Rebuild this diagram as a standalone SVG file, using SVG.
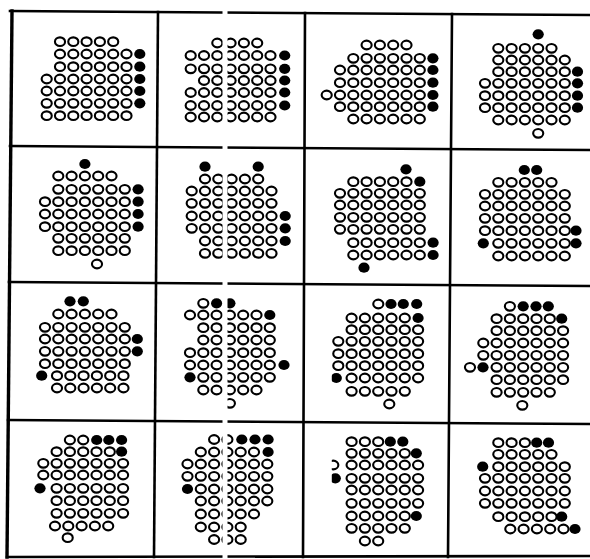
<svg xmlns="http://www.w3.org/2000/svg" width="590" height="559" viewBox="0 0 590 559">
<style>
.oc{fill:#fff;stroke:#000;stroke-width:2.1}
.fc{fill:#000}
.grid line{stroke:#000;stroke-width:2.6;stroke-linecap:square}
</style>
<defs>
<ellipse id="o" class="oc" cx="0" cy="0" rx="5.05" ry="4.35"/>
<ellipse id="f" class="fc" cx="0" cy="0" rx="5.6" ry="5.1"/>
<g id="o2"><use href="#o"/><use href="#o" x="13.3"/></g>
<g id="o3"><use href="#o2"/><use href="#o" x="26.6"/></g>
<g id="o4"><use href="#o2"/><use href="#o2" x="26.6"/></g>
<g id="o5"><use href="#o4"/><use href="#o" x="53.2"/></g>
<g id="o6"><use href="#o4"/><use href="#o2" x="53.2"/></g>
<g id="o7"><use href="#o6"/><use href="#o" x="79.8"/></g>
<g id="o8"><use href="#o4"/><use href="#o4" x="53.2"/></g>
<clipPath id="cut"><rect x="-6.5" y="0" width="30" height="559"/></clipPath>
</defs>
<rect width="590" height="559" fill="#fff"/>
<g id="grid" class="grid">
<line x1="12" y1="11" x2="7" y2="557" style="stroke-width:3.4"/>
<line x1="158" y1="12" x2="154" y2="557"/>
<line x1="305" y1="13" x2="303" y2="557"/>
<line x1="452" y1="14" x2="448" y2="557"/>
<line x1="10" y1="11" x2="590" y2="15"/>
<line x1="10" y1="146" x2="590" y2="150"/>
<line x1="9" y1="282" x2="590" y2="286"/>
<line x1="8" y1="420" x2="590" y2="424"/>
<line x1="7" y1="557" x2="590" y2="556"/>
</g>
<g id="p00" transform="translate(46.7,0)">
<use href="#o5" x="13.3" y="41.7"/>
<use href="#o6" x="13.3" y="54"/><use href="#f" x="93.1" y="54"/>
<use href="#o6" x="13.3" y="66.7"/><use href="#f" x="93.1" y="66.7"/>
<use href="#o7" y="79"/><use href="#f" x="93.1" y="79"/>
<use href="#o7" y="91"/><use href="#f" x="93.1" y="91"/>
<use href="#o7" y="103.3"/><use href="#f" x="93.1" y="103.3"/>
<use href="#o7" y="115.7"/>
</g>
<g id="p01" transform="translate(190.7,0)">
<use href="#o4" x="26.6" y="43"/>
<use href="#o7" y="55.5"/><use href="#f" x="94" y="55.5"/>
<use href="#o7" y="68.8"/><use href="#f" x="94" y="68.8"/>
<use href="#o6" x="13.3" y="80.5"/><use href="#f" x="94" y="80.5"/>
<use href="#o7" y="92.5"/><use href="#f" x="94" y="92.5"/>
<use href="#o7" y="105.5"/><use href="#f" x="94" y="105.5"/>
<use href="#o7" y="117"/>
</g>
<g id="p02" transform="translate(326.7,0)">
<use href="#o4" x="39.9" y="45"/>
<use href="#o6" x="26.6" y="58.3"/><use href="#f" x="106.2" y="58.3"/>
<use href="#o7" x="13.3" y="70"/><use href="#f" x="106.2" y="70"/>
<use href="#o7" x="13.3" y="82.7"/><use href="#f" x="106.2" y="82.7"/>
<use href="#o8" y="95"/><use href="#f" x="106.2" y="95"/>
<use href="#o7" x="13.3" y="106.7"/><use href="#f" x="106.2" y="106.7"/>
<use href="#o6" x="26.6" y="119"/>
</g>
<g id="p03" transform="translate(485,0)">
<use href="#f" x="53.2" y="34.3"/>
<use href="#o5" x="13.3" y="48.3"/>
<use href="#o6" x="13.3" y="60"/>
<use href="#o6" x="13.3" y="71.7"/><use href="#f" x="92.5" y="71.7"/>
<use href="#o7" y="83.3"/><use href="#f" x="92.5" y="83.3"/>
<use href="#o7" y="95.7"/><use href="#f" x="92.5" y="95.7"/>
<use href="#o7" y="107.7"/><use href="#f" x="92.5" y="107.7"/>
<use href="#o6" x="13.3" y="120"/>
<use href="#o" x="53.2" y="133.3"/>
</g>
<g id="p10" transform="translate(45,0)">
<use href="#f" x="39.9" y="164"/>
<use href="#o5" x="13.3" y="176"/>
<use href="#o6" x="13.3" y="189.3"/><use href="#f" x="93.1" y="189.3"/>
<use href="#o7" y="201.7"/><use href="#f" x="93.1" y="201.7"/>
<use href="#o7" y="214"/><use href="#f" x="93.1" y="214"/>
<use href="#o7" y="226.7"/><use href="#f" x="93.1" y="226.7"/>
<use href="#o6" x="13.3" y="238.3"/>
<use href="#o6" x="13.3" y="250.7"/>
<use href="#o" x="52" y="264"/>
</g>
<g id="p11" transform="translate(191.7,0)">
<use href="#f" x="13.3" y="166.7"/><use href="#f" x="66.5" y="166.7"/>
<use href="#o5" x="13.3" y="179"/>
<use href="#o7" y="191"/>
<use href="#o7" y="203.3"/>
<use href="#o7" y="216"/><use href="#f" x="93.5" y="216"/>
<use href="#o7" y="228.3"/><use href="#f" x="93.5" y="228.3"/>
<use href="#o6" x="13.3" y="241"/><use href="#f" x="93.5" y="241"/>
<use href="#o6" x="13.3" y="253.3"/>
</g>
<g id="p12" transform="translate(340,0)">
<use href="#f" x="66" y="169.3"/>
<use href="#o5" x="13.3" y="181.7"/><use href="#f" x="79.8" y="181.7"/>
<use href="#o7" y="193.3"/>
<use href="#o7" y="205"/>
<use href="#o7" y="217.3"/>
<use href="#o7" y="229.3"/>
<use href="#o6" x="13.3" y="242.7"/><use href="#f" x="93.1" y="242.7"/>
<use href="#o6" x="13.3" y="255"/><use href="#f" x="93.1" y="255"/>
<use href="#f" x="24" y="267.7"/>
</g>
<g id="p13" transform="translate(485,0)">
<use href="#f" x="39.3" y="170"/><use href="#f" x="51.7" y="170"/>
<use href="#o5" x="13.3" y="182.3"/>
<use href="#o7" y="194.3"/>
<use href="#o7" y="206"/>
<use href="#o7" y="218.3"/>
<use href="#o7" y="230.7"/><use href="#f" x="91" y="230.7"/>
<use href="#f" x="-1.7" y="243.3"/><use href="#o6" x="13.3" y="243.3"/><use href="#f" x="91" y="243.3"/>
<use href="#o6" x="13.3" y="256"/>
</g>
<g id="p20" transform="translate(45,0)">
<use href="#f" x="25" y="301.3"/><use href="#f" x="38.3" y="301.3"/>
<use href="#o5" x="13.3" y="314"/>
<use href="#o7" y="327.3"/>
<use href="#o7" y="339"/><use href="#f" x="92.3" y="339"/>
<use href="#o7" y="351.3"/><use href="#f" x="92.3" y="351.3"/>
<use href="#o7" y="363.7"/>
<use href="#f" x="-3.3" y="375.7"/><use href="#o6" x="12" y="375.7"/>
<use href="#o6" x="12" y="388"/>
</g>
<g id="p21" transform="translate(190,0)">
<use href="#o" x="13.3" y="303.3"/><use href="#f" x="26.6" y="303.3"/><use href="#f" x="39.9" y="303.3"/>
<use href="#o6" y="315"/><use href="#f" x="79.8" y="315"/>
<use href="#o6" x="13.3" y="327.7"/>
<use href="#o6" x="13.3" y="340"/>
<use href="#o7" y="352.7"/>
<use href="#o7" y="365"/><use href="#f" x="94" y="365"/>
<use href="#f" y="377.3"/><use href="#o6" x="13.3" y="377.3"/>
<use href="#o5" x="13.3" y="390"/>
<use href="#o" x="39.9" y="403.3"/>
</g>
<g id="p22" transform="translate(338.3,0)">
<use href="#o" x="40" y="304"/><use href="#f" x="52.7" y="304"/><use href="#f" x="65" y="304"/><use href="#f" x="78.4" y="304"/>
<use href="#o5" x="13.3" y="318"/><use href="#f" x="79.8" y="318"/>
<use href="#o6" x="13.3" y="329.7"/>
<use href="#o7" y="341.3"/>
<use href="#o7" y="353.7"/>
<use href="#o7" y="365.7"/>
<g clip-path="url(#cut)"><use href="#f" x="-2" y="378"/></g><use href="#o6" x="13.3" y="378"/>
<use href="#o5" x="13.3" y="391.3"/>
<use href="#o" x="51" y="404"/>
</g>
<g id="p23" transform="translate(470,0)">
<use href="#o" x="39.9" y="306.3"/><use href="#f" x="53.2" y="306.3"/><use href="#f" x="66" y="306.3"/><use href="#f" x="78.3" y="306.3"/>
<use href="#o5" x="26.6" y="318.7"/><use href="#f" x="91.7" y="318.7"/>
<use href="#o6" x="26.6" y="330.7"/>
<use href="#o7" x="13.3" y="343"/>
<use href="#o7" x="13.3" y="355.3"/>
<use href="#o" y="367.3"/><use href="#f" x="13" y="367.3"/><use href="#o6" x="26.6" y="367.3"/>
<use href="#o6" x="26.6" y="379.7"/>
<use href="#o5" x="26.6" y="392.3"/>
<use href="#o" x="52.3" y="405.3"/>
</g>
<g id="p30" transform="translate(43.3,0)">
<use href="#o2" x="26.6" y="440"/><use href="#f" x="53.4" y="440"/><use href="#f" x="65.5" y="440"/><use href="#f" x="78.3" y="440"/>
<use href="#o5" x="13.3" y="451.7"/><use href="#f" x="78.3" y="451.7"/>
<use href="#o7" y="463.3"/>
<use href="#o7" y="475"/>
<use href="#f" x="-3.3" y="488.3"/><use href="#o6" x="13.3" y="488.3"/>
<use href="#o6" x="13.3" y="500.7"/>
<use href="#o6" x="13.3" y="513.3"/>
<use href="#o5" x="11.7" y="526"/>
<use href="#o" x="24.4" y="537.7"/>
</g>
<g id="p31" transform="translate(187.5,0)">
<use href="#o2" x="26.6" y="439.5"/><use href="#f" x="54.3" y="439.5"/><use href="#f" x="67.5" y="439.5"/><use href="#f" x="80.6" y="439.5"/>
<use href="#o5" x="13.3" y="452"/><use href="#f" x="80.6" y="452"/>
<use href="#o7" y="464"/>
<use href="#o7" y="476.3"/>
<use href="#f" y="489"/><use href="#o6" x="13.3" y="489"/>
<use href="#o6" x="13.3" y="501"/>
<use href="#o5" x="13.3" y="514"/>
<use href="#o4" x="13.3" y="527"/>
<use href="#o3" x="26.6" y="539.5"/>
</g>
<g id="p32" transform="translate(338.3,0)">
<use href="#o3" x="13.3" y="441.7"/><use href="#f" x="52" y="441.7"/><use href="#f" x="64.5" y="441.7"/>
<use href="#o5" x="13.3" y="453.3"/><use href="#f" x="78" y="453.3"/>
<g clip-path="url(#cut)"><use href="#o" x="-5" y="465"/><use href="#f" x="-3" y="478.3"/></g>
<use href="#o6" x="13.3" y="465"/>
<use href="#o6" x="13.3" y="478.3"/>
<use href="#o6" x="13.3" y="490"/>
<use href="#o6" x="13.3" y="503.3"/>
<use href="#o5" x="13.3" y="516"/><use href="#f" x="78" y="516"/>
<use href="#o5" x="13.3" y="528.3"/>
<use href="#o2" x="26.6" y="541"/>
</g>
<g id="p33" transform="translate(485,0)">
<use href="#o3" x="13.3" y="442.7"/><use href="#f" x="51.7" y="442.7"/><use href="#f" x="63.5" y="442.7"/>
<use href="#o5" x="13.3" y="454.3"/>
<use href="#f" x="-2.3" y="466.7"/><use href="#o6" x="13.3" y="466.7"/>
<use href="#o7" y="478.3"/>
<use href="#o7" y="491"/>
<use href="#o7" y="503.3"/>
<use href="#o5" x="13.3" y="516.7"/><use href="#f" x="76.7" y="516.7"/>
<use href="#o5" x="25.3" y="529"/><use href="#f" x="90" y="529"/>
</g>
<rect id="scan-gap" x="222.5" y="0" width="5" height="559" fill="#fff"/>
</svg>
